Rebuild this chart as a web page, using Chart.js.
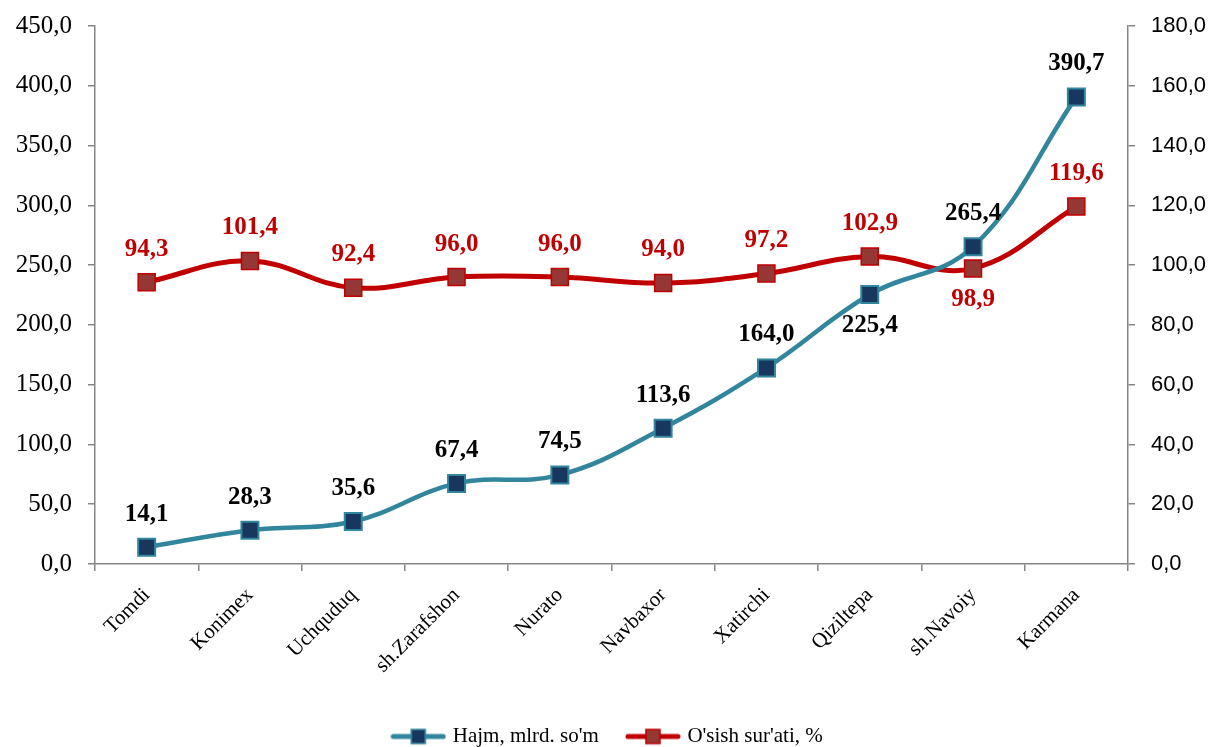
<!DOCTYPE html>
<html>
<head>
<meta charset="utf-8">
<script src="https://cdn.jsdelivr.net/npm/chart.js@4.4.1/dist/chart.umd.min.js"></script>
<style>
  html, body { margin: 0; padding: 0; background: #fff; }
  #wrap { width: 1217px; height: 747px; }
</style>
</head>
<body>
<div id="wrap"><canvas id="chart" width="1217" height="747"></canvas></div>
<script>
const categories = ["Tomdi", "Konimex", "Uchquduq", "sh.Zarafshon", "Nurato", "Navbaxor", "Xatirchi", "Qiziltepa", "sh.Navoiy", "Karmana"];
const hajm = [14.1, 28.3, 35.6, 67.4, 74.5, 113.6, 164.0, 225.4, 265.4, 390.7];
const osish = [94.3, 101.4, 92.4, 96.0, 96.0, 94.0, 97.2, 102.9, 98.9, 119.6];
// which labels sit under their point instead of above
const hajmBelow = [7];
const osishBelow = [8];

const fmt = v => v.toFixed(1).replace(".", ",");

function legendIcon(line, fill, border) {
  const c = document.createElement("canvas");
  c.width = 56; c.height = 18;
  const g = c.getContext("2d");
  g.strokeStyle = line; g.lineWidth = 5; g.lineCap = "round";
  g.beginPath(); g.moveTo(3, 9); g.lineTo(53, 9); g.stroke();
  g.fillStyle = fill; g.fillRect(21, 2, 14, 14);
  g.strokeStyle = border; g.lineWidth = 1.5; g.strokeRect(21, 2, 14, 14);
  return c;
}

const valueLabels = {
  id: "valueLabels",
  afterDatasetsDraw(chart) {
    const ctx = chart.ctx;
    ctx.save();
    ctx.font = "bold 25px 'Liberation Serif', 'Times New Roman', serif";
    ctx.textAlign = "center";
    ctx.textBaseline = "middle";
    chart.data.datasets.forEach((ds, i) => {
      const meta = chart.getDatasetMeta(i);
      ctx.fillStyle = ds.labelColor;
      meta.data.forEach((pt, j) => {
        const below = ds.below.includes(j);
        ctx.fillText(fmt(ds.data[j]), pt.x, pt.y + (below ? 31 : -33));
      });
    });
    ctx.restore();
  }
};

const axisGray = "#868686";

new Chart(document.getElementById("chart").getContext("2d"), {
  type: "line",
  data: {
    labels: categories,
    datasets: [
      {
        label: "Hajm, mlrd. so'm",
        data: hajm,
        yAxisID: "y",
        borderColor: "#31859C",
        borderWidth: 4.5,
        tension: 0.4,
        pointStyle: "rect",
        pointRadius: 12,
        pointBackgroundColor: "#17375E",
        pointBorderColor: "#31859C",
        pointBorderWidth: 2,
        labelColor: "#000000",
        below: hajmBelow,
        legendIcon: legendIcon("#31859C", "#17375E", "#31859C"),
      },
      {
        label: "O'sish sur'ati, %",
        data: osish,
        yAxisID: "y1",
        borderColor: "#C00000",
        borderWidth: 5,
        tension: 0.4,
        pointStyle: "rect",
        pointRadius: 12,
        pointBackgroundColor: "#953735",
        pointBorderColor: "#C00000",
        pointBorderWidth: 1.5,
        labelColor: "#C00000",
        below: osishBelow,
        legendIcon: legendIcon("#C00000", "#953735", "#C00000"),
      },
    ],
  },
  options: {
    responsive: false,
    animation: false,
    layout: { padding: { top: 26, left: 0, right: 0, bottom: -10 } },
    plugins: {
      tooltip: { enabled: false },
      legend: {
        position: "bottom",
        labels: {
          usePointStyle: true,
          pointStyleWidth: 48,
          padding: 30,
          color: "#000",
          font: { family: "'Liberation Serif', 'Times New Roman', serif", size: 21 },
          generateLabels(chart) {
            return chart.data.datasets.map((ds, i) => ({
              text: ds.label,
              pointStyle: ds.legendIcon,
              datasetIndex: i,
              fontColor: "#000",
              lineWidth: 0,
              strokeStyle: "transparent",
              fillStyle: "transparent",
            }));
          },
        },
      },
    },
    scales: {
      x: {
        offset: true,
        grid: { display: true, drawOnChartArea: false, drawTicks: true, tickLength: 7, color: axisGray, lineWidth: 1.5, offset: true },
        border: { color: axisGray, width: 1.5 },
        ticks: {
          color: "#000",
          minRotation: 45,
          maxRotation: 45,
          padding: 12,
          font: { family: "'Liberation Serif', 'Times New Roman', serif", size: 21 },
        },
        afterFit(s) { s.height = 132; },
      },
      y: {
        position: "left",
        min: 0,
        max: 450,
        grid: { display: true, drawOnChartArea: false, drawTicks: true, tickLength: 7, color: axisGray, lineWidth: 1.5 },
        border: { color: axisGray, width: 1.5 },
        ticks: {
          stepSize: 50,
          color: "#000",
          padding: 16,
          font: { family: "'Liberation Serif', 'Times New Roman', serif", size: 25 },
          callback: v => fmt(v),
        },
        afterFit(s) { s.width = 95; s.paddingTop = 0; s.paddingBottom = 0; },
      },
      y1: {
        position: "right",
        min: 0,
        max: 180,
        grid: { display: true, drawOnChartArea: false, drawTicks: true, tickLength: 7, color: axisGray, lineWidth: 1.5 },
        border: { color: axisGray, width: 1.5 },
        ticks: {
          stepSize: 20,
          color: "#000",
          padding: 16,
          font: { family: "'Liberation Sans', Arial, sans-serif", size: 22 },
          callback: v => fmt(v),
        },
        afterFit(s) { s.width = 89; s.paddingTop = 0; s.paddingBottom = 0; },
      },
    },
  },
  plugins: [valueLabels],
});
</script>
</body>
</html>
